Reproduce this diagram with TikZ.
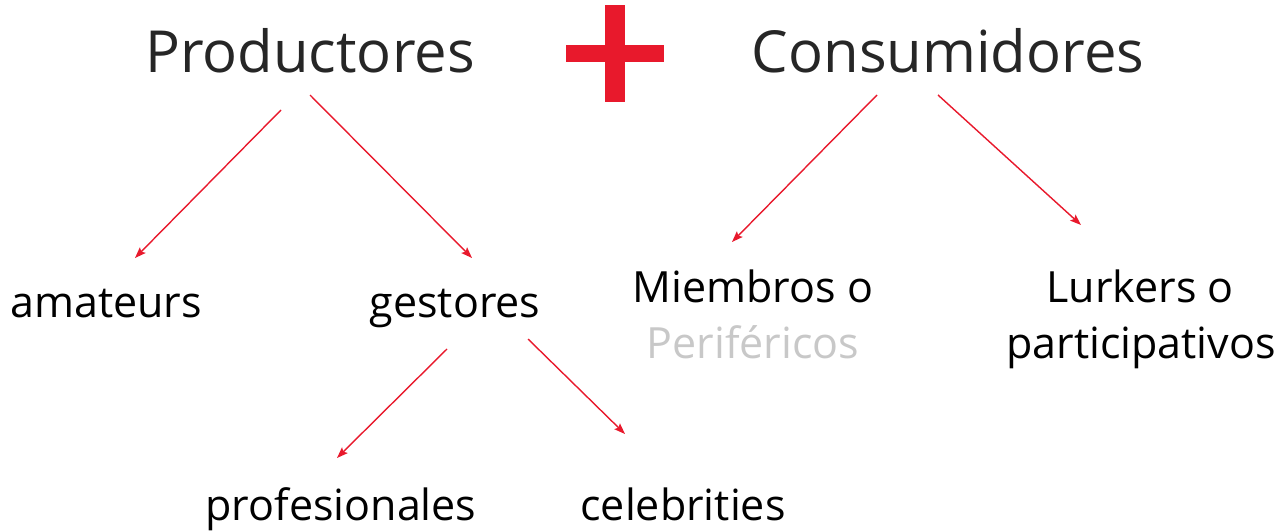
\documentclass[tikz,border=0pt]{standalone}
\usepackage{fontspec}
\setmainfont{Open Sans}
\usetikzlibrary{arrows.meta}
\definecolor{plusred}{HTML}{E8192C}
\definecolor{arrred}{HTML}{E8192C}
\definecolor{titlegray}{HTML}{262626}
\definecolor{lightgray2}{HTML}{C8C8C8}
\begin{document}
\begin{tikzpicture}[x=1pt,y=-1pt,
  title/.style={font=\fontsize{58}{60}\selectfont, text=titlegray, anchor=base, inner sep=0pt},
  lbl/.style={font=\fontsize{43}{45}\selectfont, text=black, anchor=base, inner sep=0pt},
  arr/.style={draw=arrred, line width=1.4pt, -{Stealth[length=11pt,width=8pt,inset=2pt]}}]
\useasboundingbox (0,0) rectangle (1286,532);
% plus sign
\fill[plusred] (605,5) rectangle (625,102);
\fill[plusred] (566,45) rectangle (664,62);
% titles
\node[title] (prod) at (310,73) {Productores};
\node[title] (cons) at (948,73) {Consumidores};
% labels
\node[lbl] (amat) at (106,317) {amateurs};
\node[lbl] (gest) at (455,317) {gestores};
\node[lbl] (miem) at (753,302) {Miembros o};
\node[lbl, text=lightgray2] (peri) at (753,358) {Periféricos};
\node[lbl] (lurk) at (1140,302) {Lurkers o};
\node[lbl] (part) at (1141,358) {participativos};
\node[lbl] (prof) at (341,520) {profesionales};
\node[lbl] (cele) at (683,520) {celebrities};
% connector end points
\coordinate (p1) at (281,110); \coordinate (a1) at (135,258);
\coordinate (p2) at (310,95);  \coordinate (g1) at (472,258);
\coordinate (c1) at (877,95);  \coordinate (m1) at (732,242);
\coordinate (c2) at (938,95);  \coordinate (l1) at (1081,225);
\coordinate (g2) at (447,349); \coordinate (pr1) at (337,458);
\coordinate (g3) at (528,339); \coordinate (ce1) at (625,434);
\draw[arr] (p1) -- (a1);
\draw[arr] (p2) -- (g1);
\draw[arr] (c1) -- (m1);
\draw[arr] (c2) -- (l1);
\draw[arr] (g2) -- (pr1);
\draw[arr] (g3) -- (ce1);
\end{tikzpicture}
\end{document}
